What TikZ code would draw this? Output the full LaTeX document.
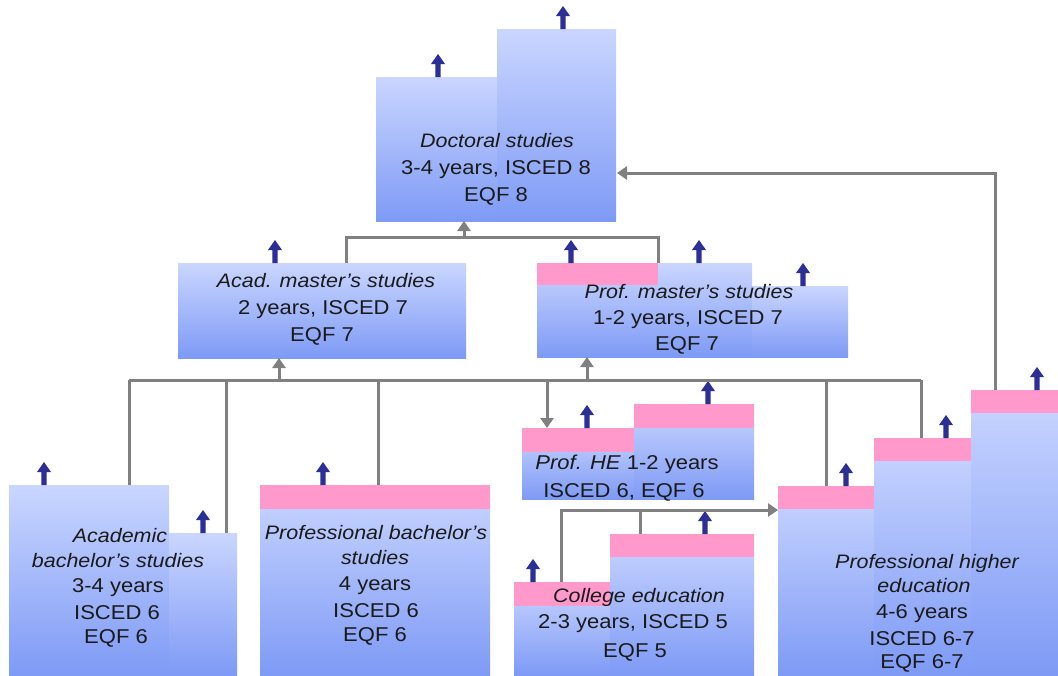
\documentclass[tikz,border=0pt]{standalone}
\usepackage{fontspec}
\setmainfont{Liberation Sans}[FakeStretch=1.1]
\usetikzlibrary{arrows.meta}
\definecolor{boxtop}{HTML}{CAD6FF}
\definecolor{boxmid}{HTML}{ADBFFB}
\definecolor{boxbot}{HTML}{7E9AF5}
\definecolor{pinkband}{HTML}{FF99CC}
\definecolor{navy}{HTML}{2C2F96}
\definecolor{conn}{HTML}{808080}
\definecolor{txt}{HTML}{1A1A1A}
\tikzset{
  blk/.style={top color=boxtop, middle color=boxmid, bottom color=boxbot},
  band/.style={fill=pinkband},
  uparr/.pic={\fill[navy] (-2.6,0) -- (-2.6,-13) -- (-7,-13) -- (0,-23) -- (7,-13) -- (2.6,-13) -- (2.6,0) -- cycle;},
  gline/.style={draw=conn, line width=3pt},
  garr/.style={gline, -{Triangle[width=13pt,length=10pt]}},
  lbl/.style={anchor=base, inner sep=0pt, text=txt, font=\fontsize{20}{24}\selectfont},
  ilbl/.style={lbl, font=\fontsize{19.5}{24}\selectfont\itshape},
}
\begin{document}
\begin{tikzpicture}[x=1pt,y=-1pt]
\useasboundingbox (0,0) rectangle (1058,675);
\fill[white] (0,0) rectangle (1058,675);

% ---------- boxes ----------
% Doctoral
\shade[blk] (376,77) rectangle (497,221);
\shade[blk] (497,29) rectangle (616,221);
% Acad. master
\shade[blk] (178,263) rectangle (466,358);
% Prof. master
\shade[blk] (537,263) rectangle (658,357);
\fill[band] (537,263) rectangle (658,285);
\shade[blk] (658,263) rectangle (752,357);
\shade[blk] (752,286) rectangle (848,357);
% Academic bachelor
\shade[blk] (9,485) rectangle (169,675);
\shade[blk] (169,533) rectangle (237,675);
% Professional bachelor
\shade[blk] (260,485) rectangle (490,675);
\fill[band] (260,485) rectangle (490,509);
% Prof. HE
\shade[blk] (522,428) rectangle (634,499);
\fill[band] (522,428) rectangle (634,452);
\shade[blk] (634,404) rectangle (754,499);
\fill[band] (634,404) rectangle (754,428);
% College
\shade[blk] (514,582) rectangle (610,675);
\fill[band] (514,582) rectangle (610,606);
\shade[blk] (610,534) rectangle (754,675);
\fill[band] (610,534) rectangle (754,557);
% Professional higher education
\shade[blk] (778,486) rectangle (874,675);
\fill[band] (778,486) rectangle (874,509);
\shade[blk] (874,438) rectangle (971,675);
\fill[band] (874,438) rectangle (971,461);
\shade[blk] (971,390) rectangle (1058,675);
\fill[band] (971,390) rectangle (1058,413);

% ---------- blue arrows ----------
\foreach \ax/\ay in {438/77, 563/29, 275/263, 571/263, 699/263, 803/286,
  587/428, 708/404, 44/485, 203/533, 323/485, 533/582, 705/534,
  846/486, 946/438, 1037/390}
  \pic at (\ax,\ay) {uparr};

% ---------- connector points ----------
\coordinate (amtop) at (346,263);
\coordinate (pmtop) at (658,263);
\coordinate (j1) at (464,237);
\coordinate (docbot) at (464,221);
\coordinate (busL) at (129,380);
\coordinate (busR) at (921,380);
\coordinate (ab1) at (129,485);
\coordinate (ab2) at (226,533);
\coordinate (pb) at (378,485);
\coordinate (ph1) at (826,486);
\coordinate (ph2) at (921,438);
\coordinate (ambot) at (279,358);
\coordinate (pmbot) at (587,357);
\coordinate (phetop) at (547,428);
\coordinate (ce1) at (561,582);
\coordinate (ce2) at (640,534);
\coordinate (phleft) at (778,510);
\coordinate (ph3) at (995,390);
\coordinate (docr) at (617,173);

% ---------- connectors ----------
\draw[gline] (amtop) |- (j1) -| (pmtop);
\draw[garr] (j1) -- (docbot);
\draw[gline] (busL) -- (busR);
\draw[gline] (ab1) -- (ab1 |- busL);
\draw[gline] (ab2) -- (ab2 |- busL);
\draw[gline] (pb) -- (pb |- busL);
\draw[gline] (ph1) -- (ph1 |- busL);
\draw[gline] (ph2) -- (ph2 |- busL);
\draw[garr] (ambot |- busL) -- (ambot);
\draw[garr] (pmbot |- busL) -- (pmbot);
\draw[garr] (phetop |- busL) -- (phetop);
\draw[garr] (ce1) |- (phleft);
\draw[gline] (ce2) -- (ce2 |- phleft);
\draw[garr] (ph3) |- (docr);

% ---------- texts ----------
\node[ilbl] (doc1) at (497,147) {Doctoral studies};
\node[lbl]  (doc2) at (496,174) {3-4 years, ISCED 8};
\node[lbl]  (doc3) at (496,201) {EQF 8};

\node[ilbl] (am1) at (326,287) {Acad. master’s studies};
\node[lbl]  (am2) at (323,314) {2 years, ISCED 7};
\node[lbl]  (am3) at (322,341) {EQF 7};

\node[ilbl] (pm1) at (689,298) {Prof. master’s studies};
\node[lbl]  (pm2) at (688,324) {1-2 years, ISCED 7};
\node[lbl]  (pm3) at (687,350) {EQF 7};

\node[lbl]  (phe1) at (627,469) {\textit{Prof. HE} 1-2 years};
\node[lbl]  (phe2) at (624,497) {ISCED 6, EQF 6};

\node[ilbl] (ab1t) at (120,542) {Academic};
\node[ilbl] (ab2t) at (118,567) {bachelor’s studies};
\node[lbl]  (ab3t) at (118,592) {3-4 years};
\node[lbl]  (ab4t) at (117,619) {ISCED 6};
\node[lbl]  (ab5t) at (116,643) {EQF 6};

\node[ilbl] (pb1) at (376,539) {Professional bachelor’s};
\node[ilbl] (pb2) at (375,564) {studies};
\node[lbl]  (pb3) at (375,590) {4 years};
\node[lbl]  (pb4) at (376,617) {ISCED 6};
\node[lbl]  (pb5) at (375,641) {EQF 6};

\node[ilbl] (ce1t) at (639,602) {College education};
\node[lbl]  (ce2t) at (633,628) {2-3 years, ISCED 5};
\node[lbl]  (ce3t) at (635,657) {EQF 5};

\node[ilbl] (ph1t) at (927,568) {Professional higher};
\node[ilbl] (ph2t) at (924,592) {education};
\node[lbl]  (ph3t) at (922,618) {4-6 years};
\node[lbl]  (ph4t) at (922,645) {ISCED 6-7};
\node[lbl]  (ph5t) at (922,668) {EQF 6-7};
\end{tikzpicture}
\end{document}
